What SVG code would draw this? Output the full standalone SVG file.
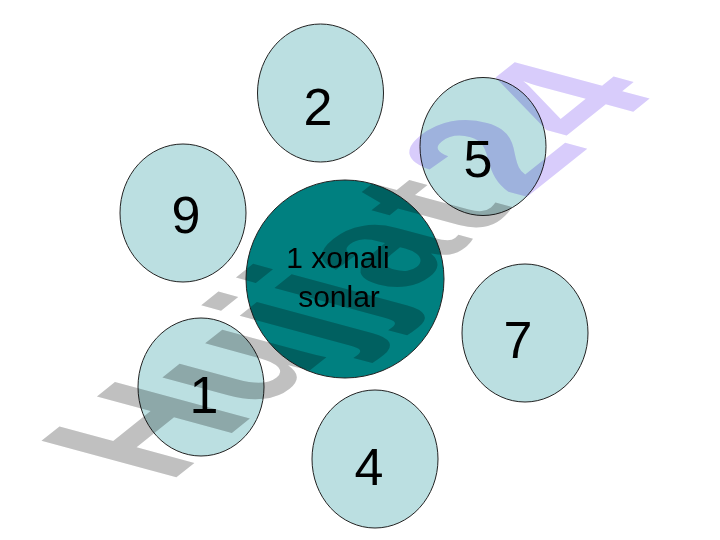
<svg xmlns="http://www.w3.org/2000/svg" width="720" height="540" viewBox="0 0 720 540">
<style>
.bg{fill:#ffffff}
.leaf{fill:#bbdfe1;stroke:#222;stroke-width:1}
.hub{fill:#008080;stroke:#222;stroke-width:1}
.num{font-family:"Liberation Sans",Arial,sans-serif;font-size:52px;fill:#000;text-anchor:middle}
.lbl{font-family:"Liberation Sans",Arial,sans-serif;font-size:30px;fill:#000;text-anchor:middle}
.wm{font-family:"Liberation Sans",Arial,sans-serif;font-weight:bold;font-size:100px;mix-blend-mode:multiply}
</style>
<rect class="bg" x="0" y="0" width="720" height="540"/>
<g id="connectors"/>
<g id="node-center">
<circle class="hub" cx="345" cy="279" r="99"/>
<text class="lbl" x="338" y="268">1 xonali</text>
<text class="lbl" x="339" y="307">sonlar</text>
</g>
<g id="node-2">
<ellipse class="leaf" cx="320.5" cy="93" rx="63" ry="69"/>
<text class="num" x="318" y="125">2</text>
</g>
<g id="node-5">
<ellipse class="leaf" cx="483" cy="146.5" rx="63" ry="69"/>
<text class="num" x="478" y="177">5</text>
</g>
<g id="node-9">
<ellipse class="leaf" cx="183" cy="213" rx="63" ry="69"/>
<text class="num" x="186" y="233">9</text>
</g>
<g id="node-7">
<ellipse class="leaf" cx="525" cy="333" rx="63" ry="69"/>
<text class="num" x="518" y="358">7</text>
</g>
<g id="node-1">
<ellipse class="leaf" cx="201" cy="387" rx="63" ry="69"/>
<text class="num" x="204" y="413">1</text>
</g>
<g id="node-4">
<ellipse class="leaf" cx="375" cy="459" rx="63" ry="69"/>
<text class="num" x="369" y="485">4</text>
</g>
<g id="watermark">
<text class="wm" transform="matrix(1.25,-1.0,1.96,0.53,168,484)"><tspan fill="#c0c0c0">Hujjat</tspan><tspan fill="#d8ccfb" dx="6">24</tspan></text>
</g>
</svg>
